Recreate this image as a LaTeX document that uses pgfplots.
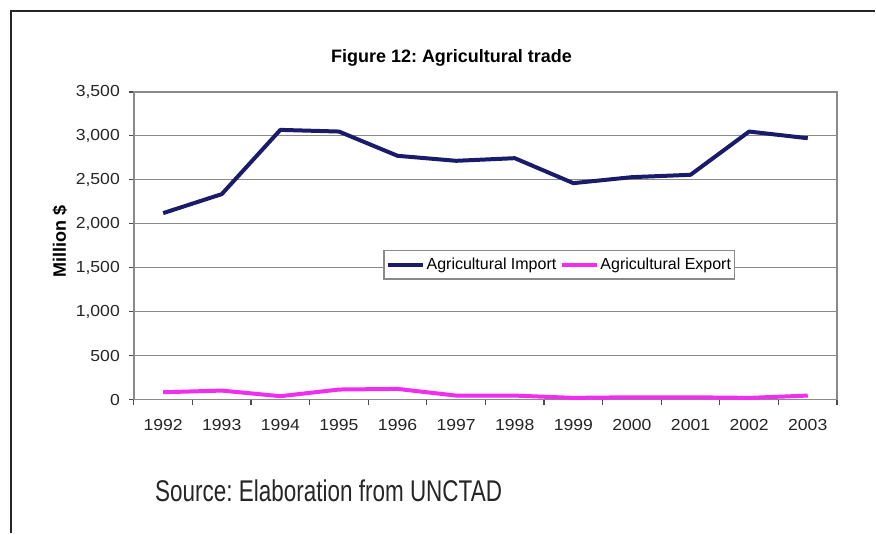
\documentclass[border=0pt]{standalone}
\usepackage{pgfplots}
\pgfplotsset{compat=1.18}
\usepackage{fontspec}
\setmainfont{Liberation Sans}
\newfontfamily\tickfont[FakeStretch=1.1]{Liberation Sans}
\newfontfamily\srcfont[FakeStretch=0.75]{Liberation Sans}
\definecolor{navy}{HTML}{1B1B6B}
\definecolor{mag}{HTML}{F02EF0}
\definecolor{gridgray}{HTML}{8A8A8A}
\frenchspacing
\begin{document}
\frenchspacing
\begin{tikzpicture}
\path[fill=white] (0pt,0pt) rectangle (438pt,-267pt);
\draw[line width=1pt,color=black!85] (5.5pt,-267pt) -- (5.5pt,-5.5pt) -- (438pt,-5.5pt);
\begin{axis}[
  at={(67pt,-200pt)}, anchor=south west,
  scale only axis, width=352pt, height=154pt,
  xmin=-0.5, xmax=11.5, ymin=0, ymax=3500,
  xtick={-0.5,0.5,...,11.5},
  x tick label as interval,
  xticklabels={1992,1993,1994,1995,1996,1997,1998,1999,2000,2001,2002,2003},
  ytick={0,500,...,3500},
  xtick pos=bottom, ytick pos=left,
  ymajorgrids, grid style={gridgray, line width=0.6pt},
  axis line style={gridgray, line width=0.7pt},
  tick style={black!70, line width=0.6pt},
  tick align=outside, major tick length=2.5pt,
  /pgf/number format/assume math mode=true,
  /pgf/number format/1000 sep={,},
  ticklabel style={font=\tickfont\fontsize{8}{9}\selectfont, text=black!85},
  xticklabel style={yshift=-4pt},
  yticklabel style={xshift=-1pt},
  legend columns=2,
  legend style={at={(0.355,0.438)}, anchor=west, draw=gridgray, line width=0.6pt,
    font=\fontsize{8}{9}\selectfont, inner xsep=1pt, inner ysep=1.5pt,
    nodes={inner xsep=0.8pt},
    /tikz/every even column/.append style={column sep=1pt}},
  legend image code/.code={\draw[#1, line width=2pt] (0pt,0pt) -- (17.5pt,0pt);},
  clip=false,
]
\addplot[navy, line width=2pt, line join=round] coordinates {
 (0,2121) (1,2337) (2,3068) (3,3049) (4,2773) (5,2716) (6,2746) (7,2462) (8,2530) (9,2557) (10,3049) (11,2973)};
\addlegendentry{Agricultural Import}
\addplot[mag, line width=2pt, line join=round] coordinates {
 (0,83) (1,102) (2,38) (3,114) (4,121) (5,45) (6,45) (7,19) (8,26) (9,26) (10,19) (11,45)};
\addlegendentry{Agricultural Export}
\end{axis}
\node[font=\bfseries\fontsize{9}{10}\selectfont] at (226pt,-29pt) {Figure 12: Agricultural trade};
\node[font=\bfseries\fontsize{9}{10}\selectfont, rotate=90] at (30pt,-121pt) {Million \$};
\node[font=\srcfont\fontsize{15}{17}\selectfont, anchor=base west, text=black!85, inner sep=0pt] at (77.5pt,-251pt) {Source: Elaboration from UNCTAD};
\end{tikzpicture}
\end{document}
